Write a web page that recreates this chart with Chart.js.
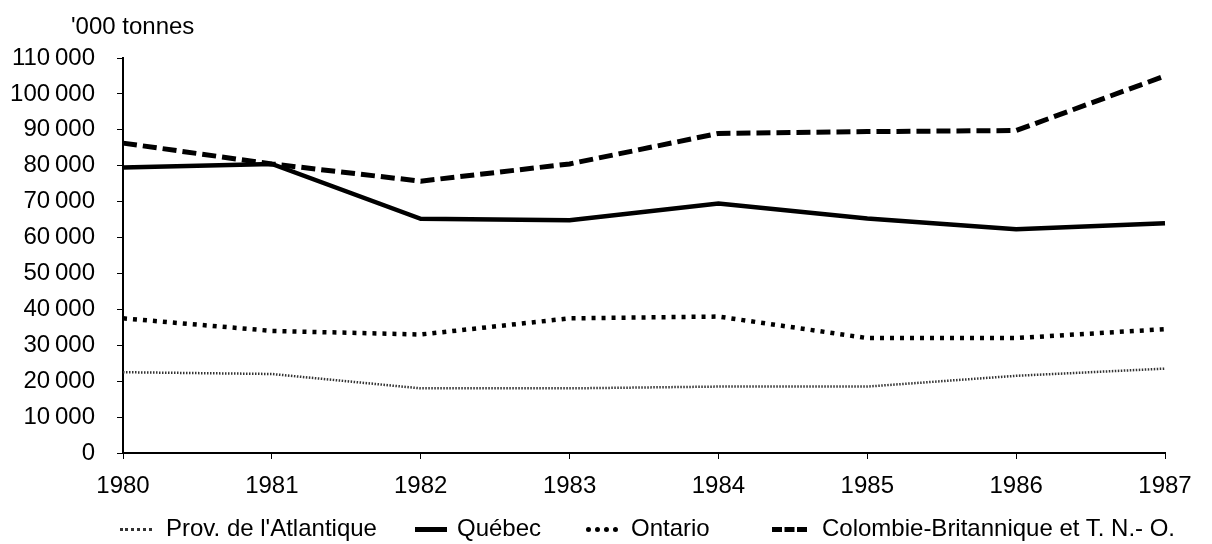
<!DOCTYPE html>
<html>
<head>
<meta charset="utf-8">
<script src="https://cdn.jsdelivr.net/npm/chart.js@4.4.1/dist/chart.umd.min.js"></script>
<style>
	body { margin: 0; background: #fff; }
	#wrap { position: relative; width: 1212px; height: 544px; overflow: hidden; font-family: "Liberation Sans", Arial, sans-serif; }
	#unitLabel { position: absolute; left: 71px; top: 12px; font-size: 24px; color: #000; }
	.legItem { position: absolute; top: 514px; font-size: 24px; line-height: 28px; color: #000; white-space: nowrap; }
	.legSample { display: inline-block; width: 32px; vertical-align: middle; margin-right: 14px; }
</style>
</head>
<body>
<div id="wrap">
	<canvas id="linesChart" width="1212" height="544"></canvas>
	<div id="unitLabel">'000 tonnes</div>
	<div class="legItem" style="left:120px"><span class="legSample" style="border-top:3px dotted #333"></span>Prov. de l'Atlantique</div>
	<div class="legItem" style="left:415px"><span class="legSample" style="border-top:5px solid #000;margin-right:10px"></span>Québec</div>
	<div class="legItem" style="left:586px"><span class="legSample" style="border-top:5px dotted #000;margin-right:13px"></span>Ontario</div>
	<div class="legItem" style="left:772px"><span class="legSample" style="border-top:5px dashed #000;width:35px;margin-right:15px"></span>Colombie-Britannique et T. N.- O.</div>
</div>
<script>
// years on the x axis
const years = ["1980", "1981", "1982", "1983", "1984", "1985", "1986", "1987"];

// series values ('000 tonnes)
const atlantique = [22500, 22000, 18000, 18000, 18500, 18500, 21500, 23500];
const quebec = [79500, 80500, 65200, 64800, 69500, 65300, 62300, 64000];
const ontario = [37500, 34000, 33000, 37500, 38000, 32000, 32000, 34500];
const colombie = [86300, 80500, 75700, 80500, 89000, 89500, 89800, 105000];

// y axis range
const yMin = 0;
const yMax = 110000;
const yStep = 10000;

function spaceThousands(v){
	// thin space between groups, like the printed labels
	return String(v).replace(/\B(?=(\d{3})+(?!\d))/g, "\u2009");
}

let ctxL = document.getElementById("linesChart").getContext("2d");
let myLineChart = new Chart(ctxL, {
	type: "line",
	data: {
		labels: years,
		datasets: [
			{ label: "Prov. de l'Atlantique", data: atlantique, borderColor: "#333", borderWidth: 2.5, borderDash: [1.5, 1.5] },
			{ label: "Québec", data: quebec, borderColor: "#000", borderWidth: 4.5 },
			{ label: "Ontario", data: ontario, borderColor: "#000", borderWidth: 4.5, borderDash: [4, 6] },
			{ label: "Colombie-Britannique et T. N.- O.", data: colombie, borderColor: "#000", borderWidth: 5, borderDash: [14, 6] }
		]
	},
	options: {
		responsive: false,
		animation: false,
		tension: 0,
		pointRadius: 0,
		layout: { padding: { top: 58, right: 47, left: 0, bottom: 0 } },
		plugins: { legend: { display: false }, tooltip: { enabled: false } },
		scales: {
			x: {
				offset: false,
				border: { color: "#000", width: 2 },
				grid: { drawOnChartArea: false, color: "#000", tickLength: 6 },
				ticks: { color: "#000", padding: 13, maxRotation: 0, font: { family: "Liberation Sans", size: 24 } },
				afterFit: function(scale){ scale.height = 91; }
			},
			y: {
				min: yMin,
				max: yMax,
				border: { color: "#000", width: 2 },
				grid: { drawOnChartArea: false, color: "#000", tickLength: 6 },
				ticks: {
					stepSize: yStep,
					color: "#000",
					padding: 22,
					font: { family: "Liberation Sans", size: 24 },
					callback: function(v){ return spaceThousands(v); }
				},
				afterFit: function(scale){ scale.width = 123; }
			}
		}
	}
});
</script>
</body>
</html>
